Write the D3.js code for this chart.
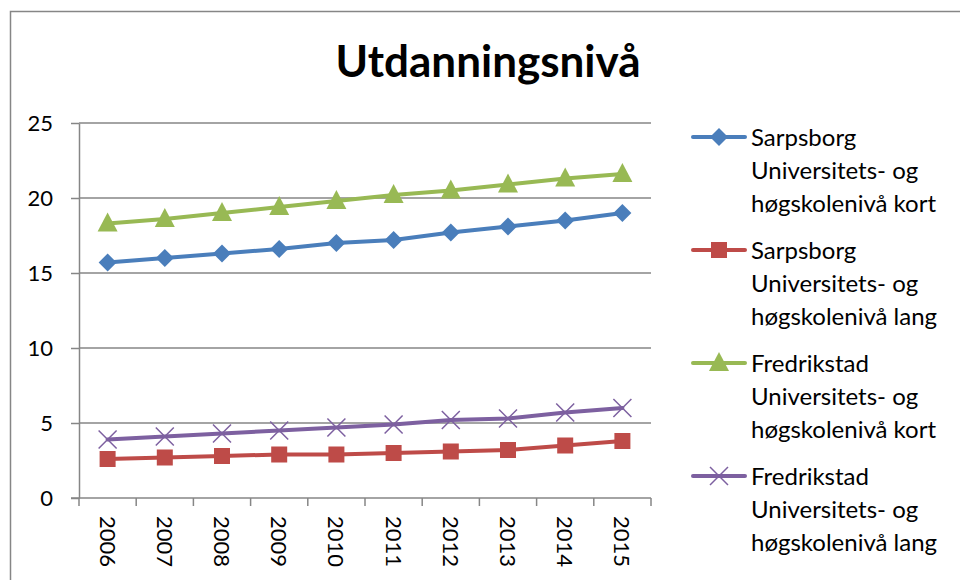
<!DOCTYPE html>
<html>
<head>
<meta charset="utf-8">
<script src="https://cdn.jsdelivr.net/npm/d3@7"></script>
<style>
  body { margin: 0; background: #fff; }
  svg { display: block; font-family: Lato, "Open Sans", sans-serif; }
</style>
</head>
<body>
<svg id="chart" width="960" height="580"></svg>
<script>
// --- data ---
var years = ["2006", "2007", "2008", "2009", "2010", "2011", "2012", "2013", "2014", "2015"];
var sarpsborgKort = [15.7, 16.0, 16.3, 16.6, 17.0, 17.2, 17.7, 18.1, 18.5, 19.0];
var sarpsborgLang = [2.6, 2.7, 2.8, 2.9, 2.9, 3.0, 3.1, 3.2, 3.5, 3.8];
var fredrikstadKort = [18.3, 18.6, 19.0, 19.4, 19.8, 20.2, 20.5, 20.9, 21.3, 21.6];
var fredrikstadLang = [3.9, 4.1, 4.3, 4.5, 4.7, 4.9, 5.2, 5.3, 5.7, 6.0];
var yTicks = [0, 5, 10, 15, 20, 25];

var series = [
  { lines: ["Sarpsborg", "Universitets- og", "høgskolenivå kort"], values: sarpsborgKort, color: "#4a7ebb", marker: "diamond" },
  { lines: ["Sarpsborg", "Universitets- og", "høgskolenivå lang"], values: sarpsborgLang, color: "#be4b48", marker: "square" },
  { lines: ["Fredrikstad", "Universitets- og", "høgskolenivå kort"], values: fredrikstadKort, color: "#98b954", marker: "triangle" },
  { lines: ["Fredrikstad", "Universitets- og", "høgskolenivå lang"], values: fredrikstadLang, color: "#7d60a0", marker: "cross" }
];

var svg = d3.select("#chart");
var plot = { left: 79, right: 651, top: 123, bottom: 498 };
var gridColor = "#868686";

// outer chart frame (runs off the right and bottom edge)
svg.append("rect")
  .attr("x", 10.5).attr("y", 11.5)
  .attr("width", 1000).attr("height", 1000)
  .attr("fill", "none").attr("stroke", gridColor).attr("stroke-width", 1.5);

// title
svg.append("text")
  .attr("x", 488).attr("y", 77)
  .attr("text-anchor", "middle")
  .style("font-size", "44px").style("font-weight", "bold")
  .text("Utdanningsnivå");

var x = d3.scaleBand().domain(years).range([plot.left, plot.right]);
var y = d3.scaleLinear().domain([0, 25]).range([plot.bottom, plot.top]);

// gridlines
svg.append("g")
  .selectAll("line")
  .data(yTicks.filter(d => d > 0))
  .join("line")
  .attr("x1", plot.left).attr("x2", plot.right)
  .attr("y1", d => y(d)).attr("y2", d => y(d))
  .attr("stroke", gridColor).attr("stroke-width", 1.5);

// y axis
var yAxis = svg.append("g")
  .attr("transform", `translate(${plot.left},0)`)
  .call(d3.axisLeft(y).tickValues(yTicks).tickSize(8).tickPadding(18).tickSizeOuter(0));
yAxis.select(".domain").attr("stroke", gridColor).attr("stroke-width", 1.5);
yAxis.selectAll(".tick line").attr("stroke", gridColor).attr("stroke-width", 1.5);
yAxis.selectAll("text").style("font-size", "22px").attr("fill", "#000")
  .style("font-family", "Lato, sans-serif");

// x axis: tick marks on band boundaries
var xAxisG = svg.append("g");
xAxisG.append("line")
  .attr("x1", plot.left - 8).attr("x2", plot.right)
  .attr("y1", plot.bottom).attr("y2", plot.bottom)
  .attr("stroke", gridColor).attr("stroke-width", 1.5);
var bounds = years.map(d => x(d)).concat([plot.right]);
xAxisG.selectAll("line.tk")
  .data(bounds)
  .join("line")
  .attr("class", "tk")
  .attr("x1", d => d).attr("x2", d => d)
  .attr("y1", plot.bottom).attr("y2", plot.bottom + 8)
  .attr("stroke", gridColor).attr("stroke-width", 1.5);
xAxisG.selectAll("text")
  .data(years)
  .join("text")
  .attr("transform", d => `translate(${x(d) + x.bandwidth() / 2 - 8},${plot.bottom + 18}) rotate(90)`)
  .style("font-size", "22px")
  .text(d => d);

// marker shapes
function drawMarker(g, type, color, cx, cy) {
  if (type === "diamond") {
    g.append("path").attr("d", `M${cx},${cy - 9}L${cx + 9},${cy}L${cx},${cy + 9}L${cx - 9},${cy}Z`).attr("fill", color);
  } else if (type === "square") {
    g.append("rect").attr("x", cx - 8).attr("y", cy - 8).attr("width", 16).attr("height", 16).attr("fill", color);
  } else if (type === "triangle") {
    g.append("path").attr("d", `M${cx},${cy - 11}L${cx + 10},${cy + 8}L${cx - 10},${cy + 8}Z`).attr("fill", color);
  } else {
    g.append("path").attr("d", `M${cx - 9},${cy - 9}L${cx + 9},${cy + 9}M${cx - 9},${cy + 9}L${cx + 9},${cy - 9}`)
      .attr("stroke", color).attr("stroke-width", 1.5).attr("fill", "none");
  }
}

var line = d3.line()
  .x((d, i) => x(years[i]) + x.bandwidth() / 2)
  .y(d => y(d));

series.forEach(function(s) {
  var g = svg.append("g");
  g.append("path")
    .attr("d", line(s.values))
    .attr("fill", "none").attr("stroke", s.color)
    .attr("stroke-width", 4).attr("stroke-linejoin", "round").attr("stroke-linecap", "round");
  s.values.forEach(function(v, i) {
    drawMarker(g, s.marker, s.color, x(years[i]) + x.bandwidth() / 2, y(v));
  });
});

// legend
var legendTop = 137, groupGap = 113, lineGap = 33;
series.forEach(function(s, k) {
  var ly = legendTop + k * groupGap;
  var g = svg.append("g");
  g.append("line")
    .attr("x1", 693).attr("x2", 745).attr("y1", ly).attr("y2", ly)
    .attr("stroke", s.color).attr("stroke-width", 4).attr("stroke-linecap", "round");
  drawMarker(g, s.marker, s.color, 719, ly);
  s.lines.forEach(function(t, j) {
    g.append("text")
      .attr("x", 751).attr("y", ly + j * lineGap + 9)
      .style("font-size", "24px")
      .text(t);
  });
});
</script>
</body>
</html>
